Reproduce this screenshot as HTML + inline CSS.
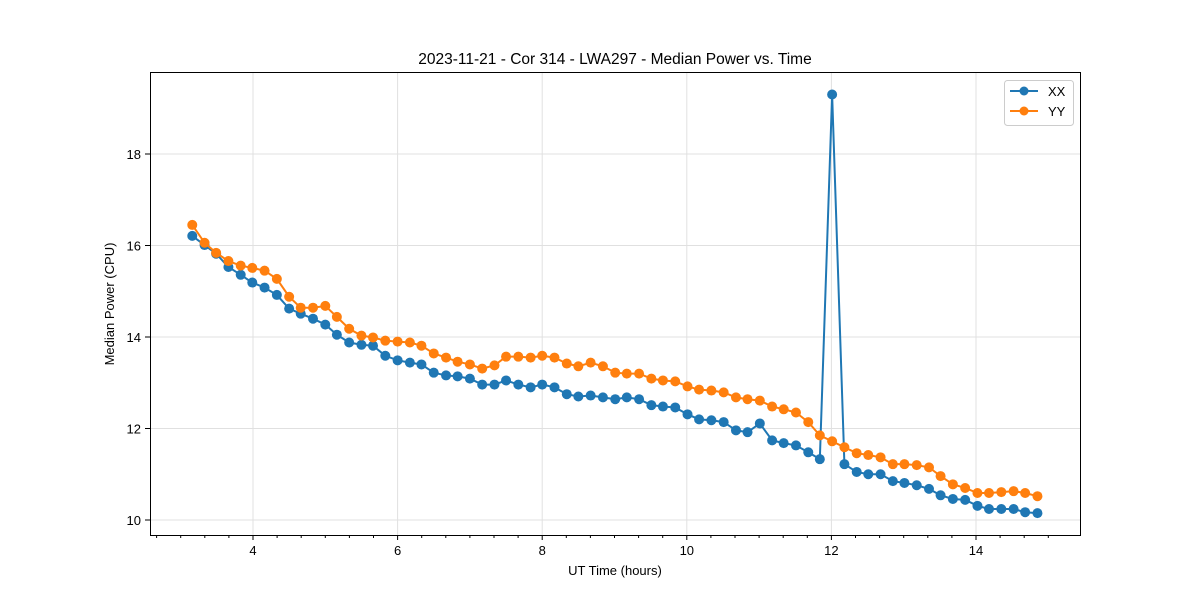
<!DOCTYPE html>
<html><head><meta charset="utf-8"><style>body{margin:0;background:#fff}svg{display:block;font-family:"Liberation Sans","DejaVu Sans",sans-serif}</style></head>
<body>
<svg id="chart" width="1200" height="600" xmlns="http://www.w3.org/2000/svg">
<rect width="1200" height="600" fill="#fff"/>
<text x="615" y="64" text-anchor="middle" font-size="15.5" fill="#000">2023-11-21 - Cor 314 - LWA297 - Median Power vs. Time</text>
<g id="grid"></g>
<g id="series"></g>
<rect x="150.5" y="72.5" width="930" height="463" fill="none" stroke="#000" stroke-width="1"/>
<g id="axes"></g>
<text x="615" y="575" text-anchor="middle" font-size="13">UT Time (hours)</text>
<text transform="translate(114,304) rotate(-90)" text-anchor="middle" font-size="13">Median Power (CPU)</text>
<g>
<rect x="1004.5" y="80.5" width="69" height="45" rx="3" fill="#fff" stroke="#ccc"/>
<g><line x1="1010" y1="91" x2="1038" y2="91" stroke="#1f77b4" stroke-width="2"/><circle cx="1024" cy="91" r="4.5" fill="#1f77b4"/><text x="1048" y="96" font-size="13">XX</text></g>
<g><line x1="1010" y1="111" x2="1038" y2="111" stroke="#ff7f0e" stroke-width="2"/><circle cx="1024" cy="111" r="4.5" fill="#ff7f0e"/><text x="1048" y="116" font-size="13">YY</text></g>
</g>
</svg>
<script>
const times = [3.16,3.33,3.49,3.66,3.83,3.99,4.16,4.33,4.50,4.66,4.83,5.00,5.16,5.33,5.50,5.66,5.83,6.00,6.17,6.33,6.50,6.67,6.83,7.00,7.17,7.34,7.50,7.67,7.84,8.00,8.17,8.34,8.50,8.67,8.84,9.01,9.17,9.34,9.51,9.67,9.84,10.01,10.17,10.34,10.51,10.68,10.84,11.01,11.18,11.34,11.51,11.68,11.84,12.01,12.18,12.35,12.51,12.68,12.85,13.01,13.18,13.35,13.51,13.68,13.85,14.02,14.18,14.35,14.52,14.68,14.85];
const xxValues = [16.21,16.01,15.82,15.53,15.36,15.19,15.08,14.92,14.62,14.51,14.40,14.27,14.05,13.88,13.83,13.81,13.59,13.49,13.44,13.40,13.22,13.16,13.14,13.09,12.96,12.96,13.05,12.96,12.90,12.96,12.90,12.75,12.70,12.72,12.68,12.64,12.68,12.64,12.51,12.48,12.46,12.31,12.20,12.18,12.14,11.96,11.92,12.11,11.74,11.68,11.63,11.48,11.33,19.30,11.22,11.05,11.00,11.00,10.85,10.81,10.76,10.68,10.54,10.46,10.44,10.31,10.24,10.24,10.24,10.17,10.15];
const yyValues = [16.45,16.06,15.84,15.66,15.56,15.51,15.45,15.27,14.88,14.64,14.64,14.68,14.44,14.18,14.03,13.99,13.92,13.90,13.88,13.81,13.64,13.55,13.46,13.40,13.31,13.38,13.57,13.57,13.55,13.59,13.55,13.42,13.36,13.44,13.36,13.22,13.20,13.20,13.09,13.05,13.03,12.92,12.85,12.83,12.79,12.68,12.64,12.61,12.48,12.42,12.35,12.14,11.85,11.72,11.59,11.46,11.42,11.37,11.22,11.22,11.20,11.15,10.96,10.78,10.70,10.59,10.59,10.61,10.63,10.59,10.52];
const xTicks = [4,6,8,10,12,14];
const yTicks = [10,12,14,16,18];
const NS='http://www.w3.org/2000/svg';
const X = t => 253 + (t-4)*72.3;
const Y = v => 520 - (v-10)*45.75;
function mk(tag, attrs, parent){const e=document.createElementNS(NS,tag);for(const k in attrs)e.setAttribute(k,attrs[k]);parent.appendChild(e);return e;}
const grid=document.getElementById('grid'), axes=document.getElementById('axes'), series=document.getElementById('series');
xTicks.forEach(t=>{
  const x=X(t);
  const g=mk('line',{x1:x,x2:x,y1:72,y2:535,stroke:'#e0e0e0','stroke-width':1},grid);
  
  
  mk('line',{x1:x,x2:x,y1:535,y2:540,stroke:'#000'},axes);
  const l=mk('text',{x:x,y:555,'text-anchor':'middle','font-size':13},axes);
  l.textContent=t;
  
  
});
for(let m=8;m<=45;m++){const t=m/3;const x=X(t);if(x<151||x>1080||m%6===0)continue;mk('line',{x1:x,x2:x,y1:535,y2:538,stroke:'#000'},axes);}
yTicks.forEach(v=>{
  const y=Y(v);
  const g=mk('line',{x1:150,x2:1080,y1:y,y2:y,stroke:'#e0e0e0','stroke-width':1},grid);
  
  
  mk('line',{x1:145,x2:150,y1:y,y2:y,stroke:'#000'},axes);
  const l=mk('text',{x:141,y:y+5,'text-anchor':'end','font-size':13},axes);
  l.textContent=v;
  
  
});
function draw(vals,color,name){
  const g=mk('g',{},series);
  
  
  const pts=vals.map((v,i)=>X(times[i])+','+Y(v)).join(' ');
  mk('polyline',{points:pts,fill:'none',stroke:color,'stroke-width':2},g);
  vals.forEach((v,i)=>{
    const c=mk('circle',{cx:X(times[i]),cy:Y(v),r:5,fill:color},g);
    
    
  });
}
draw(xxValues,'#1f77b4','series-xx');
draw(yyValues,'#ff7f0e','series-yy');
</script>
</body></html>
